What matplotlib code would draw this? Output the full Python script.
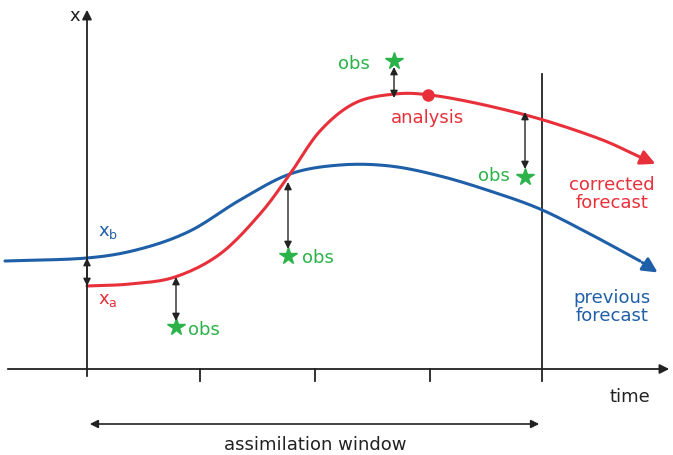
import matplotlib.pyplot as plt
import numpy as np

BLUE = "#1f5fa8"
RED = "#e8303a"
GREEN = "#2bb34a"

# curves (pixel coords, y down)
blue_x = [5, 87, 140, 190, 240, 290, 340, 390, 440, 490, 540, 590, 640]
blue_y = [262, 259, 250, 232, 201, 175, 166, 167, 177, 192, 210, 235, 262]
red_x = [87, 130, 175, 220, 260, 290, 320, 355, 395, 430, 480, 540, 600, 640]
red_y = [287, 285, 278, 255, 215, 175, 132, 104, 95, 96, 105, 120, 140, 158]

obs_x = [176, 288, 394, 525]
obs_y = [328, 257, 62, 178]
obs_lbl_x = [188, 302, 338, 478]
obs_lbl_y = [330, 258, 64, 176]

# double arrows: x, top, bottom
darrow_x = [87, 176, 288, 394, 525]
darrow_top = [259, 278, 183, 68, 113]
darrow_bot = [287, 322, 250, 99, 170]

ticks_x = [200, 315, 430]


def smooth(xs, ys, n=12):
    """Catmull-Rom through the read points, for drawing only."""
    p = np.column_stack([xs, ys]).astype(float)
    p = np.vstack([2 * p[0] - p[1], p, 2 * p[-1] - p[-2]])
    out = []
    t = np.linspace(0, 1, n, endpoint=False)[:, None]
    for i in range(1, len(p) - 2):
        p0, p1, p2, p3 = p[i - 1], p[i], p[i + 1], p[i + 2]
        out.append(0.5 * ((2 * p1) + (-p0 + p2) * t
                          + (2 * p0 - 5 * p1 + 4 * p2 - p3) * t ** 2
                          + (-p0 + 3 * p1 - 3 * p2 + p3) * t ** 3))
    out.append(p[-2][None, :])
    out = np.vstack(out)
    return out[:, 0], out[:, 1]


fig = plt.figure(figsize=(6.73, 4.56), dpi=100)
ax = fig.add_axes([0, 0, 1, 1])
ax.set_xlim(0, 673)
ax.set_ylim(456, 0)
ax.axis("off")

# axes
ax.annotate("", xy=(87, 8), xytext=(87, 380),
            arrowprops=dict(arrowstyle="-|>", color="#222", lw=1.3, mutation_scale=14))
ax.annotate("", xy=(672, 370), xytext=(5, 370),
            arrowprops=dict(arrowstyle="-|>", color="#222", lw=1.3, mutation_scale=14))
for tx in ticks_x:
    ax.plot([tx, tx], [370, 382], color="#222", lw=1.3)
ax.plot([542, 542], [75, 382], color="#222", lw=1.3)
ax.text(80, 16, "x", fontsize=13, ha="right", va="center", color="#222")
ax.text(610, 397, "time", fontsize=13, ha="left", va="center", color="#222")

# assimilation window
ax.annotate("", xy=(87, 425), xytext=(542, 425),
            arrowprops=dict(arrowstyle="<|-|>", color="#222", lw=1.2, mutation_scale=12))
ax.text(315, 445, "assimilation window", fontsize=13, ha="center", va="center", color="#222")

# curves
bx, by = smooth(blue_x, blue_y)
ax.plot(bx, by, color=BLUE, lw=2.2, solid_capstyle="round")
ax.annotate("", xy=(660, 275), xytext=(blue_x[-1], blue_y[-1]),
            arrowprops=dict(arrowstyle="-|>", color=BLUE, lw=2.2, mutation_scale=22))
rx, ry = smooth(red_x, red_y)
ax.plot(rx, ry, color=RED, lw=2.2, solid_capstyle="round")
ax.annotate("", xy=(658, 166), xytext=(red_x[-1], red_y[-1]),
            arrowprops=dict(arrowstyle="-|>", color=RED, lw=2.2, mutation_scale=22))
ax.plot([428], [96], "o", color=RED, ms=8)

# double arrows
for x, t, b in zip(darrow_x, darrow_top, darrow_bot):
    ax.annotate("", xy=(x, t), xytext=(x, b),
                arrowprops=dict(arrowstyle="<|-|>", color="#222", lw=1.0,
                                mutation_scale=11, shrinkA=0, shrinkB=0))

# observations
ax.plot(obs_x, obs_y, "*", color=GREEN, ms=13, ls="none")
for lx, ly in zip(obs_lbl_x, obs_lbl_y):
    ax.text(lx, ly, "obs", fontsize=13, color=GREEN, ha="left", va="center")

# labels
ax.text(98, 232, r"x$_\mathregular{b}$", fontsize=13, color=BLUE, va="center")
ax.text(98, 300, r"x$_\mathregular{a}$", fontsize=13, color=RED, va="center")
ax.text(428, 118, "analysis", fontsize=13, color=RED, ha="center", va="center")
ax.text(612, 194, "corrected\nforecast", fontsize=13, color=RED, ha="center",
        va="center", linespacing=1.0)
ax.text(612, 307, "previous\nforecast", fontsize=13, color=BLUE, ha="center",
        va="center", linespacing=1.0)

fig.savefig("out.png", dpi=100)
